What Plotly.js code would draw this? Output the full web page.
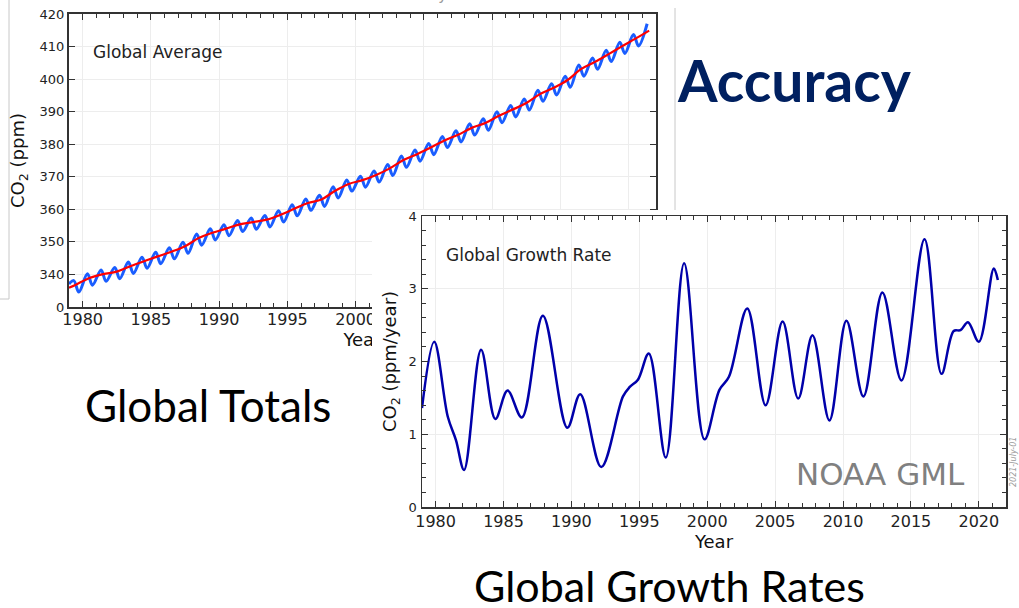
<!DOCTYPE html>
<html><head><meta charset="utf-8">
<script src="https://cdn.plot.ly/plotly-3.0.1.min.js"></script>
<style>
html,body{margin:0;padding:0;background:#fff;}
#page{position:relative;width:1019px;height:608px;overflow:hidden;background:#fff;}
#top{position:absolute;left:0;top:0;width:1019px;height:608px;}
#bottom{position:absolute;left:372px;top:210px;width:647px;height:350px;}
</style></head><body>
<div id="page"><div id="top"></div><div id="bottom"></div></div>
<script>
// ---------- Data: Global Average (ppm) ----------
const cycleYears = [1979,1980,1981,1982,1983,1984,1985,1986,1987,1988,1989,1990,1991,1992,1993,1994,1995,1996,1997,1998,1999,2000,2001,2002,2003,2004,2005,2006,2007,2008,2009,2010,2011,2012,2013,2014,2015,2016,2017,2018,2019,2020,2021];
const seasonalPeak = [338.1,340.2,341.4,342.1,343.8,345.3,346.8,348.2,349.9,352.4,354.0,355.3,356.6,357.3,358.1,359.6,361.4,363.2,364.3,366.9,369.0,370.2,371.8,373.8,376.4,378.2,380.2,382.4,384.1,386.3,387.8,390.0,391.9,393.9,396.6,398.6,400.9,404.3,406.5,408.9,411.3,413.7,417.0];
const seasonalTrough = [334.6,336.7,337.9,338.7,340.3,341.9,343.3,344.8,346.5,349.0,350.6,351.9,353.2,353.9,354.6,356.1,358.0,359.7,360.9,363.5,365.6,366.8,368.4,370.4,372.9,374.8,376.8,379.0,380.7,382.8,384.3,386.6,388.4,390.5,393.2,395.1,397.5,400.9,403.0,405.4,407.9,410.2];
const cycleStart = {year:1979.0, value:337.1};
const trendYears = [1979.0,1979.5,1980.5,1981.5,1982.5,1983.5,1984.5,1985.5,1986.5,1987.5,1988.5,1989.5,1990.5,1991.5,1992.5,1993.5,1994.5,1995.5,1996.5,1997.5,1998.5,1999.5,2000.5,2001.5,2002.5,2003.5,2004.5,2005.5,2006.5,2007.5,2008.5,2009.5,2010.5,2011.5,2012.5,2013.5,2014.5,2015.5,2016.5,2017.5,2018.5,2019.5,2020.5,2021.5];
const trendValues = [335.9,336.85,338.91,340.11,340.86,342.53,344.07,345.54,346.97,348.68,351.16,352.79,354.06,355.39,356.09,356.83,358.33,360.17,361.93,363.05,365.70,367.80,368.96,370.57,372.58,375.14,376.95,378.98,381.15,382.90,385.02,386.50,388.76,390.63,392.65,395.40,397.34,399.65,403.06,405.22,407.61,410.07,412.44,414.9];
const topYTickVals = [330,340,350,360,370,380,390,400,410,420];
const topYTickText = ['0','340','350','360','370','380','390','400','410','420'];

// ---------- Data: Global Growth Rate (ppm/year) ----------
const rateYears = [1979.0,1979.9,1980.9,1981.5,1982.1,1983.35,1984.4,1985.3,1986.35,1987.9,1989.7,1990.65,1992.2,1993.8,1994.3,1994.9,1995.7,1996.95,1998.3,1999.8,2000.9,2001.6,2002.95,2004.3,2005.55,2006.7,2007.75,2009.0,2010.25,2011.5,2012.9,2014.3,2016.0,2017.25,2018.15,2018.65,2019.2,2020.0,2021.1,2021.4];
const rateValues = [1.36,2.27,1.24,0.92,0.51,2.16,1.21,1.60,1.23,2.63,1.09,1.55,0.55,1.52,1.65,1.75,2.11,0.68,3.35,0.93,1.61,1.79,2.73,1.40,2.55,1.49,2.36,1.19,2.56,1.52,2.95,1.74,3.68,1.83,2.42,2.43,2.54,2.27,3.28,3.12];
const rateYTicks = [0, 1, 2, 3, 4];
const rateYMinor = [0.2,0.4,0.6,0.8,1.2,1.4,1.6,1.8,2.2,2.4,2.6,2.8,3.2,3.4,3.6,3.8];

// build the seasonal series from the read peaks / troughs
const blueX = [cycleStart.year], blueY = [cycleStart.value];
cycleYears.forEach((yr, i) => {
  blueX.push(yr + 0.35); blueY.push(seasonalPeak[i]);
  if (i < seasonalTrough.length) { blueX.push(yr + 0.72); blueY.push(seasonalTrough[i]); }
});

const FONT = 'DejaVu Sans, sans-serif';
const SLIDE = 'Lato, Noto Sans, sans-serif';
const AX = '#333';

// ---------- Figure 1 (full page) ----------
const W1 = 1019, H1 = 608;
const fx = x => x / W1, fy = y => 1 - y / H1;

const axBase = {
  showline: true, linecolor: AX, mirror: 'allticks', ticks: 'inside', tickcolor: AX,
  ticklen: 6, tickwidth: 1, showgrid: true, gridcolor: '#ededed', gridwidth: 1, zeroline: false,
  fixedrange: true, ticklabeloverflow: 'allow'
};

const layout1 = {
  width: W1, height: H1, margin: {l: 0, r: 0, t: 0, b: 0},
  paper_bgcolor: 'rgba(0,0,0,0)', plot_bgcolor: 'rgba(0,0,0,0)', showlegend: false,
  xaxis: Object.assign({}, axBase, {
    domain: [fx(69), fx(656)], range: [1979, 2022], tick0: 1980, dtick: 5, linewidth: 2,
    minor: {dtick: 1, ticks: 'inside', ticklen: 4, tickcolor: AX, showgrid: false},
    tickfont: {family: FONT, size: 16, color: '#222'}, ticklabelstandoff: -3,
    title: {text: 'Year', font: {family: FONT, size: 18, color: '#111'}, standoff: 2}
  }),
  yaxis: Object.assign({}, axBase, {
    domain: [fy(307), fy(14)], range: [330, 420], tickmode: 'array',
    tickvals: topYTickVals, ticktext: topYTickText, linewidth: 2,
    tickfont: {family: FONT, size: 13, color: '#222'},
    title: {text: 'CO<sub>2</sub> (ppm)', font: {family: FONT, size: 18, color: '#111'}, standoff: 10}
  }),
  annotations: [
    {xref: 'paper', yref: 'paper', x: fx(91), y: fy(52), xanchor: 'left', yanchor: 'middle', showarrow: false,
     text: 'Global Average', font: {family: FONT, size: 17, color: '#222'}},
    {xref: 'paper', yref: 'paper', x: fx(373), y: fy(6), xanchor: 'center', yanchor: 'bottom', showarrow: false,
     text: 'NOAA ESRL Carbon Cycle', font: {family: FONT, size: 15, color: '#999'}},
    {xref: 'paper', yref: 'paper', x: fx(794), y: fy(80), xanchor: 'center', yanchor: 'middle', showarrow: false,
     text: 'Accuracy', font: {family: SLIDE, size: 57, color: '#002060', weight: 700}},
    {xref: 'paper', yref: 'paper', x: fx(208), y: fy(405), xanchor: 'center', yanchor: 'middle', showarrow: false,
     text: 'Global Totals', font: {family: SLIDE, size: 44, color: '#000'}},
    {xref: 'paper', yref: 'paper', x: fx(669), y: fy(585), xanchor: 'center', yanchor: 'middle', showarrow: false,
     text: 'Global Growth Rates', font: {family: SLIDE, size: 43, color: '#000'}}
  ],
  shapes: [
    {type: 'line', xref: 'paper', yref: 'paper', x0: fx(9), x1: fx(9), y0: fy(0), y1: fy(299), line: {color: '#c8c8c8', width: 1}},
    {type: 'line', xref: 'paper', yref: 'paper', x0: fx(0), x1: fx(9), y0: fy(299), y1: fy(299), line: {color: '#c8c8c8', width: 1}},
    {type: 'line', xref: 'paper', yref: 'paper', x0: fx(675), x1: fx(675), y0: fy(8), y1: fy(211), line: {color: '#c8c8c8', width: 1}}
  ]
};

const traces1 = [
  {x: blueX, y: blueY, type: 'scatter', mode: 'lines', line: {color: '#1a5dff', width: 3, shape: 'spline', smoothing: 1}, hoverinfo: 'skip'},
  {x: trendYears, y: trendValues, type: 'scatter', mode: 'lines', line: {color: '#ff0000', width: 2.2, shape: 'spline', smoothing: 1}, hoverinfo: 'skip'}
];

Plotly.newPlot('top', traces1, layout1, {staticPlot: true, displayModeBar: false});

// ---------- Figure 2 (growth rate inset) ----------
const W2 = 647, H2 = 350, OX = 372, OY = 210;
const gx = x => (x - OX) / W2, gy = y => 1 - (y - OY) / H2;

const layout2 = {
  width: W2, height: H2, margin: {l: 0, r: 0, t: 0, b: 0},
  paper_bgcolor: '#ffffff', plot_bgcolor: '#ffffff', showlegend: false,
  xaxis: Object.assign({}, axBase, {
    domain: [gx(422), gx(1006)], range: [1979, 2022], tick0: 1980, dtick: 5, linewidth: 1.5,
    minor: {dtick: 1, ticks: 'inside', ticklen: 4, tickcolor: AX, showgrid: false},
    tickfont: {family: FONT, size: 16, color: '#222'}, ticklabelstandoff: -1,
    title: {text: 'Year', font: {family: FONT, size: 18, color: '#111'}, standoff: 0}
  }),
  yaxis: Object.assign({}, axBase, {
    domain: [gy(507), gy(216)], range: [0, 4], tickmode: 'array', tickvals: rateYTicks, linewidth: 1.5,
    minor: {tickvals: rateYMinor, ticks: 'inside', ticklen: 4, tickcolor: AX, showgrid: false},
    tickfont: {family: FONT, size: 13, color: '#222'}, ticklabelstandoff: 1,
    title: {text: 'CO<sub>2</sub> (ppm/year)', font: {family: FONT, size: 18, color: '#111'}, standoff: 7}
  }),
  annotations: [
    {xref: 'paper', yref: 'paper', x: gx(444), y: gy(255), xanchor: 'left', yanchor: 'middle', showarrow: false,
     text: 'Global Growth Rate', font: {family: FONT, size: 17, color: '#222'}},
    {xref: 'paper', yref: 'paper', x: gx(880), y: gy(474), xanchor: 'center', yanchor: 'middle', showarrow: false,
     text: 'NOAA GML', font: {family: FONT, size: 31, color: '#808080'}},
    {xref: 'paper', yref: 'paper', x: gx(1013), y: gy(462), xanchor: 'center', yanchor: 'middle', showarrow: false,
     textangle: -90, text: '<i>2021-July-01</i>', font: {family: FONT, size: 8, color: '#9a9a9a'}}
  ]
};

const traces2 = [
  {x: rateYears, y: rateValues, type: 'scatter', mode: 'lines', line: {color: '#0000aa', width: 2.5, shape: 'spline', smoothing: 1}, hoverinfo: 'skip'}
];

Plotly.newPlot('bottom', traces2, layout2, {staticPlot: true, displayModeBar: false});
</script></body></html>
